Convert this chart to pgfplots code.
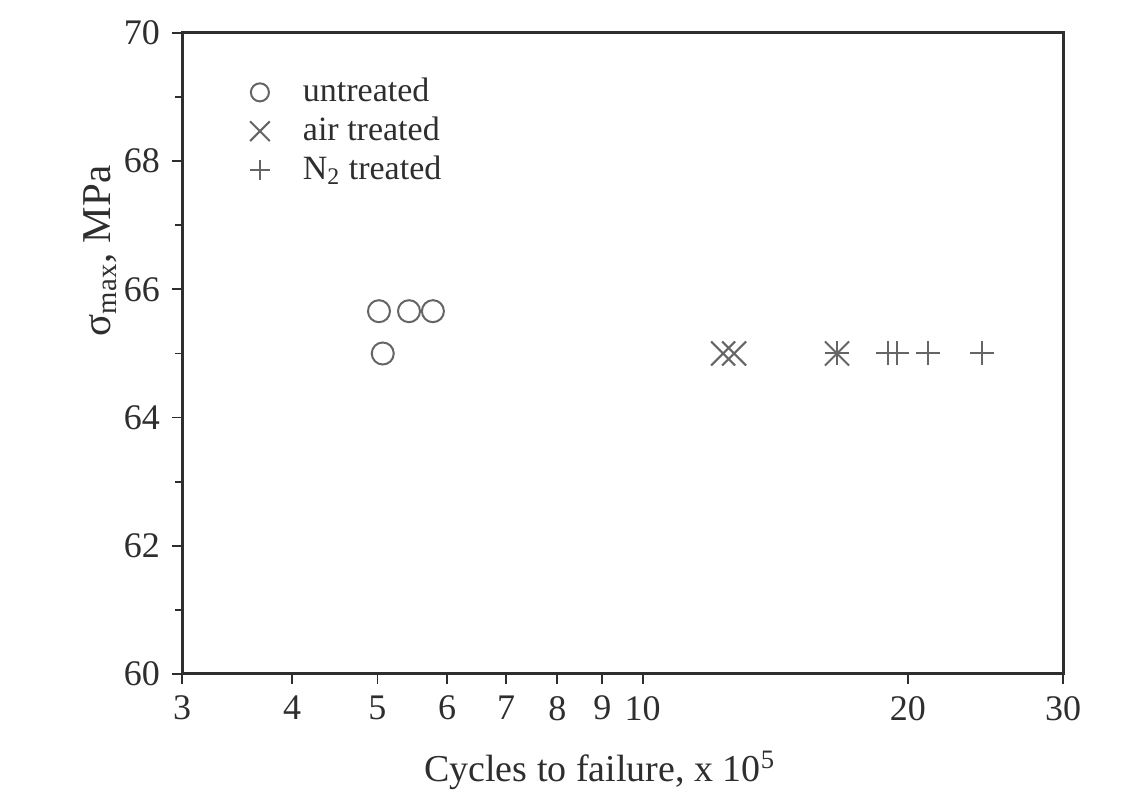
\documentclass[border=0pt]{standalone}
\usepackage{fontspec}
\setmainfont{Liberation Serif}
\usepackage{pgfplots}
\pgfplotsset{compat=1.18}

\definecolor{axisgray}{HTML}{2E2E2E}
\definecolor{markgray}{HTML}{656565}

\begin{document}
\fontsize{17.5}{21}\selectfont
\begin{tikzpicture}
\begin{axis}[
  scale only axis,
  width=440.5pt, height=320.5pt,
  xmode=log,
  xmin=3, xmax=30,
  ymin=60, ymax=70,
  xtick={3,4,5,6,7,8,9,10,20,30},
  xticklabels={3,4,5,6,7,8,9,10,20,30},
  minor xtick={},
  ytick={60,62,64,66,68,70},
  minor ytick={61,63,65,67,69},
  tick align=outside,
  xtick pos=bottom, ytick pos=left,
  major tick length=5pt, minor tick length=3.5pt,
  every tick/.style={axisgray, line width=0.9pt},
  axis line style={axisgray, line width=1.5pt},
  tick label style={font=\fontsize{18}{21}\selectfont, text=axisgray},
  /pgf/number format/assume math mode=true,
  xlabel={Cycles to failure, x 10\textsuperscript{5}},
  xlabel style={at={(axis description cs:0.474,-0.15)}, anchor=center, font=\fontsize{19}{22}\selectfont, text=axisgray},
  ylabel={σ\textsubscript{max}, MPa},
  ylabel style={at={(axis description cs:-0.093,0.66)}, anchor=center, rotate=0, font=\fontsize{20.5}{24}\selectfont, text=axisgray},
  legend style={draw=none, fill=none, at={(axis description cs:0.063,0.943)}, anchor=north west,
    font=\fontsize{17}{21}\selectfont, text=axisgray, row sep=1pt},
  legend cell align=left,
  legend image code/.code={%
    \pgfpathmoveto{\pgfpoint{0pt}{0pt}}%
    \pgfpathlineto{\pgfpoint{27.5pt}{0pt}}%
    \pgfusepath{discard}%
    \draw[#1, only marks, every mark/.append style={scale=0.82}] plot coordinates {(8pt,0pt)};},
]
% untreated
\addplot[only marks, mark=o, mark size=5.5pt, markgray, line width=1pt] coordinates {
  (5.02,65.66) (5.43,65.66) (5.78,65.66) (5.07,65.0)
};
\addlegendentry{untreated}
% air treated
\addplot[only marks, mark=x, mark size=8.5pt, markgray, line width=1pt] coordinates {
  (12.34,65.0) (12.70,65.0) (16.62,65.0)
};
\addlegendentry{air treated}
% N2 treated
\addplot[only marks, mark=+, mark size=6pt, markgray, line width=1pt] coordinates {
  (16.62,65.0) (18.99,65.0) (19.44,65.0) (21.08,65.0) (24.28,65.0)
};
\addlegendentry{N\textsubscript{2} treated}
\end{axis}
\pgfresetboundingbox
\path[use as bounding box] (-91pt,-58pt) rectangle (479pt,337pt);
\end{tikzpicture}
\end{document}
